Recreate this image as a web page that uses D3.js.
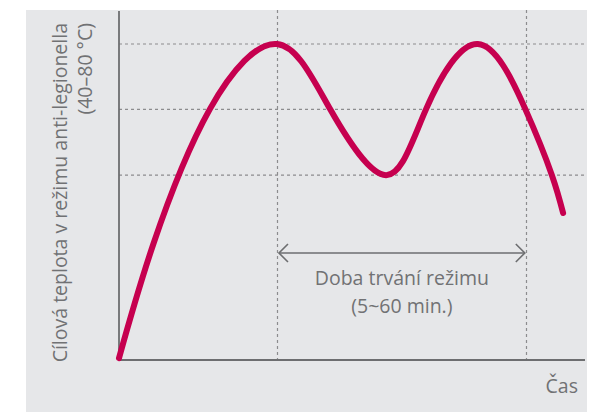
<!DOCTYPE html>
<html lang="cs">
<head>
  <meta charset="UTF-8">
  <script src="https://cdn.jsdelivr.net/npm/d3@7"></script>
  <title>Anti-legionella</title>
  <style>
    body { margin: 0; background: #fff; }
    text { font-family: "Open Sans", "Noto Sans", sans-serif; fill: #717274; }
  </style>
</head>
<body>
  <script>
    const width = 598;
    const height = 412;

    // relative time (0-100) and relative temperature (0-100)
    const timeValues = [0, 7.3, 19.5, 33.9, 45.3, 57.3, 65.9, 77.0, 87.1, 92.9, 95.3];
    const tempValues = [0.6, 36.4, 79.4, 100, 79.4, 58.5, 79.4, 100, 79.7, 58.5, 46.5];
    const gridLevels = [100, 79.3, 58.5];
    const timeMarks = [33.9, 87.3];
    const yLabel = ["Cílová teplota v režimu anti-legionella", "(40–80 °C)"];
    const spanLabel = ["Doba trvání režimu", "(5~60 min.)"];
    const xLabel = "Čas";

    const x = d3.scaleLinear().domain([0, 100]).range([119, 585]);
    const y = d3.scaleLinear().domain([0, 100]).range([360, 44]);

    const svg = d3.select("body").append("svg")
      .attr("width", width)
      .attr("height", height);

    svg.append("rect")
      .attr("x", 26).attr("y", 10)
      .attr("width", 561).attr("height", 402)
      .attr("fill", "#e6e7e9");

    // dashed grid
    svg.append("g").selectAll("line")
      .data(gridLevels).join("line")
      .attr("x1", x(0)).attr("x2", x(100))
      .attr("y1", d => y(d)).attr("y2", d => y(d))
      .attr("stroke", "#8c8c8e").attr("stroke-width", 1.2)
      .attr("stroke-dasharray", "3,3");

    svg.append("g").selectAll("line")
      .data(timeMarks).join("line")
      .attr("x1", d => Math.round(x(d)) + 0.5).attr("x2", d => Math.round(x(d)) + 0.5)
      .attr("y1", 10).attr("y2", y(0))
      .attr("stroke", "#8c8c8e").attr("stroke-width", 1.2)
      .attr("stroke-dasharray", "3,3");

    // axes
    svg.append("line")
      .attr("x1", x(0)).attr("x2", x(0))
      .attr("y1", 11).attr("y2", y(0))
      .attr("stroke", "#6d6e70").attr("stroke-width", 1.8);
    svg.append("line")
      .attr("x1", x(0)).attr("x2", x(100))
      .attr("y1", y(0)).attr("y2", y(0))
      .attr("stroke", "#6d6e70").attr("stroke-width", 1.8);

    // curve
    const points = timeValues.map((t, i) => [t, tempValues[i]]);
    const line = d3.line()
      .x(d => x(d[0]))
      .y(d => y(d[1]))
      .curve(d3.curveNatural);
    svg.append("path")
      .datum(points)
      .attr("d", line)
      .attr("fill", "none")
      .attr("stroke", "#c6004f")
      .attr("stroke-width", 6)
      .attr("stroke-linecap", "round");

    // duration arrow
    const ay = 253;
    const ax1 = x(timeMarks[0]) + 2;
    const ax2 = x(timeMarks[1]) - 1;
    const arrow = svg.append("g")
      .attr("stroke", "#6d6e70").attr("stroke-width", 1.6).attr("fill", "none");
    arrow.append("line").attr("x1", ax1).attr("x2", ax2).attr("y1", ay).attr("y2", ay);
    arrow.append("path").attr("d", `M${ax1 + 9},${ay - 9}L${ax1},${ay}L${ax1 + 9},${ay + 9}`);
    arrow.append("path").attr("d", `M${ax2 - 9},${ay - 9}L${ax2},${ay}L${ax2 - 9},${ay + 9}`);

    const midX = (ax1 + ax2) / 2;
    svg.append("text")
      .attr("text-anchor", "middle")
      .attr("font-size", 19.5)
      .selectAll("tspan")
      .data(spanLabel).join("tspan")
      .attr("x", midX)
      .attr("y", (d, i) => 285 + i * 28)
      .text(d => d);

    svg.append("text")
      .attr("x", 578).attr("y", 393)
      .attr("text-anchor", "end")
      .attr("font-size", 19.5)
      .text(xLabel);

    svg.append("g")
      .selectAll("text")
      .data(yLabel).join("text")
      .attr("transform", (d, i) => `translate(${67 + i * 25},23) rotate(-90)`)
      .attr("text-anchor", "end")
      .attr("font-size", 19.5)
      .text(d => d);
  </script>
</body>
</html>
